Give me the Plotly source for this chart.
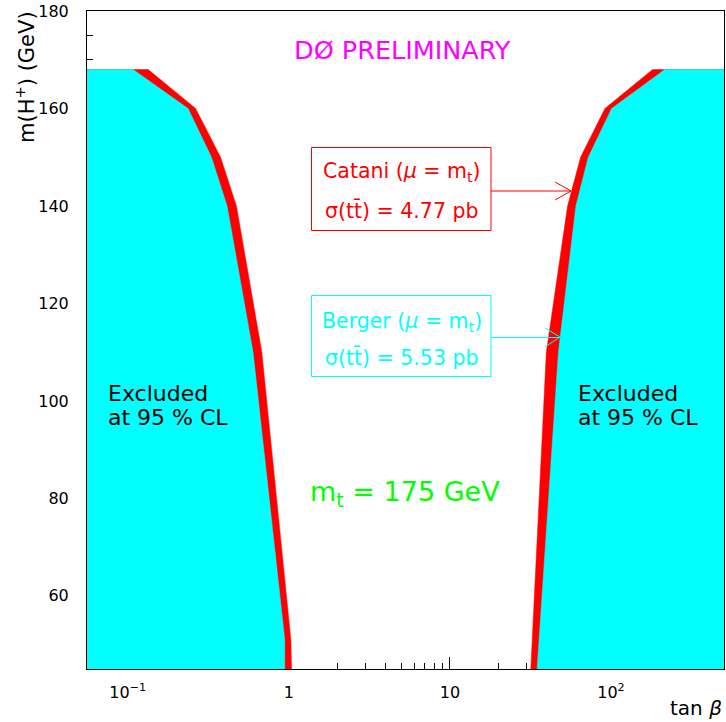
import plotly.graph_objects as go

# ---------------- data ----------------
# left excluded region (small tan beta)
mass_left = [168, 160, 150, 140, 110, 51, 45]
tanb_left_red = [0.134, 0.264, 0.377, 0.473, 0.680, 1.03, 1.04]     # outer edge (red band)
tanb_left_cyan = [0.108, 0.237, 0.331, 0.414, 0.600, 0.944, 0.944]  # inner edge (cyan fill)
# right excluded region (large tan beta)
mass_right = [168, 160, 150, 140, 110, 45]
tanb_right_red = [181.5, 91.8, 64.8, 53.8, 39.7, 31.8]
tanb_right_cyan = [216.0, 101.0, 72.3, 60.6, 47.2, 34.8]

x_tickvals = [0.1, 1, 10, 100]
x_ticktext = ["10<sup>\u22121</sup>", "1", "10", "10<sup>2</sup>"]
x_minor = [0.06, 0.07, 0.08, 0.09, 0.2, 0.3, 0.4, 0.5, 0.6, 0.7, 0.8, 0.9,
           2, 3, 4, 5, 6, 7, 8, 9, 20, 30, 40, 50, 60, 70, 80, 90,
           200, 300, 400, 500]

# ---------------- layout geometry ----------------
W, H = 726, 722
PL, PR, PT, PB = 87, 724, 11, 669
XRANGE = [-1.2528, 2.7019]
YRANGE = [45, 180]
RED = "#ff0000"
CYAN = "#00ffff"
FONT = "DejaVu Sans"

def px(x):
    return (x - PL) / (PR - PL)

def py(y):
    return (PB - y) / (PB - PT)

x_lo = 10 ** (XRANGE[0] - 0.2)
x_hi = 10 ** (XRANGE[1] + 0.2)

fig = go.Figure()

def region(xs, ys, color):
    fig.add_trace(go.Scatter(x=xs, y=ys, mode="lines", fill="toself",
                             fillcolor=color, line=dict(color=color, width=0.5),
                             hoverinfo="skip", showlegend=False))

# left
region([x_lo] + tanb_left_red + [x_lo], [mass_left[0]] + mass_left + [mass_left[-1]], RED)
region([x_lo] + tanb_left_cyan + [x_lo], [mass_left[0]] + mass_left + [mass_left[-1]], CYAN)
# right
region([x_hi] + tanb_right_red + [x_hi], [mass_right[0]] + mass_right + [mass_right[-1]], RED)
region([x_hi] + tanb_right_cyan + [x_hi], [mass_right[0]] + mass_right + [mass_right[-1]], CYAN)

shapes = []
annotations = []

def text(x, y, s, color="black", size=22, xanchor="left"):
    annotations.append(dict(xref="paper", yref="paper", x=px(x), y=py(y), text=s,
                            showarrow=False, xanchor=xanchor, yanchor="middle",
                            font=dict(family=FONT, size=size, color=color)))

# title-like label
text(402.5, 50, "D\u00d8 PRELIMINARY", color="#ff00ff", size=25.5, xanchor="center")

# Catani box
shapes.append(dict(type="rect", xref="paper", yref="paper",
                   x0=px(311.5), x1=px(491), y0=py(147.5), y1=py(230.5),
                   line=dict(color=RED, width=1)))
text(401.5, 172, "Catani (<i>\u03bc</i> = m<sub>t</sub>)", color=RED, size=20.5, xanchor="center")
text(401.5, 210, "\u03c3(tt\u0304) = 4.77 pb", color=RED, size=20.5, xanchor="center")
shapes.append(dict(type="line", xref="paper", yref="paper",
                   x0=px(491), x1=px(571), y0=py(191), y1=py(191),
                   line=dict(color=RED, width=1)))
shapes.append(dict(type="path", xref="paper", yref="paper",
                   path="M %f %f L %f %f L %f %f" % (px(555), py(182), px(571), py(191), px(555), py(200)),
                   line=dict(color=RED, width=1)))

# Berger box
shapes.append(dict(type="rect", xref="paper", yref="paper",
                   x0=px(311.5), x1=px(491), y0=py(295.5), y1=py(376.5),
                   line=dict(color=CYAN, width=1)))
text(401.5, 322, "Berger (<i>\u03bc</i> = m<sub>t</sub>)", color=CYAN, size=20.5, xanchor="center")
text(401.5, 357, "\u03c3(tt\u0304) = 5.53 pb", color=CYAN, size=20.5, xanchor="center")
shapes.append(dict(type="line", xref="paper", yref="paper",
                   x0=px(491), x1=px(560), y0=py(337.5), y1=py(337.5),
                   line=dict(color=CYAN, width=1)))
shapes.append(dict(type="path", xref="paper", yref="paper",
                   path="M %f %f L %f %f L %f %f" % (px(545), py(328), px(560), py(337), px(545), py(347)),
                   line=dict(color=CYAN, width=1)))

# Excluded labels
text(106, 393, "Excluded")
text(106, 417, "at 95 % CL")
text(576, 393, "Excluded")
text(576, 417, "at 95 % CL")

# m_t label
text(405, 493, "m<sub>t</sub> = 175 GeV", color="#00ff00", size=27, xanchor="center")

# axis titles
annotations.append(dict(xref="paper", yref="paper", x=px(724), y=py(708),
                        text="tan <i>\u03b2</i>", showarrow=False, xanchor="right",
                        yanchor="middle", font=dict(family=FONT, size=20, color="black")))
annotations.append(dict(xref="paper", yref="paper", x=px(25), y=py(77),
                        text="m(H<sup>+</sup>) (GeV)", showarrow=False, textangle=-90,
                        xanchor="center", yanchor="middle",
                        font=dict(family=FONT, size=21, color="black")))

fig.update_layout(
    width=W, height=H,
    margin=dict(l=PL, r=W - PR, t=PT, b=H - PB, pad=0),
    paper_bgcolor="white", plot_bgcolor="white",
    showlegend=False,
    font=dict(family=FONT, size=16, color="black"),
    shapes=shapes, annotations=annotations,
    xaxis=dict(type="log", range=XRANGE, showgrid=False, zeroline=False,
               showline=True, linecolor="black", linewidth=1, mirror=True,
               ticks="inside", ticklen=12, tickcolor="black",
               tickmode="array", tickvals=x_tickvals, ticktext=x_ticktext,
               minor=dict(tickmode="array", tickvals=x_minor, ticks="inside",
                          ticklen=6, tickcolor="black", showgrid=False),
               tickfont=dict(family=FONT, size=16, color="black"),
               ticklabelstandoff=9, layer="below traces"),
    yaxis=dict(range=YRANGE, showgrid=False, zeroline=False,
               showline=True, linecolor="black", linewidth=1, mirror=True,
               ticks="inside", ticklen=12, tickcolor="black",
               tick0=0, dtick=20,
               minor=dict(dtick=5, tick0=0, ticks="inside", ticklen=6,
                          tickcolor="black", showgrid=False),
               tickfont=dict(family=FONT, size=16, color="black"),
               ticklabelstandoff=14, layer="below traces"),
)

fig.write_html("out.html", config={"displayModeBar": False},
               post_script="document.body.style.margin='0';document.body.style.padding='0';document.body.style.overflow='hidden';")
